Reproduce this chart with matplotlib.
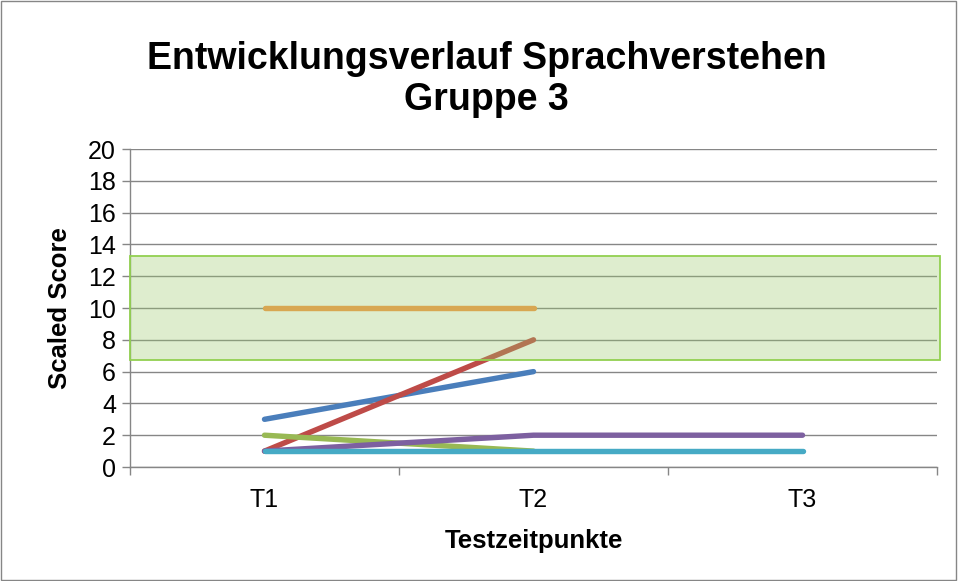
import matplotlib
matplotlib.use('Agg')
import matplotlib.pyplot as plt
from matplotlib.patches import Rectangle

plt.rcParams['font.family'] = ['Liberation Sans', 'DejaVu Sans']

categories = ['T1', 'T2', 'T3']
series = [
    ([3, 6], '#4A7EBB'),
    ([1, 8], '#BE4B48'),
    ([2, 1], '#98B954'),
    ([1, 2, 2], '#7D60A0'),
    ([1, 1, 1], '#46AAC5'),
    ([10, 10], '#F79646'),
]
band_low, band_high = 6.7, 13.3

fig = plt.figure(figsize=(9.58, 5.81), dpi=100)
ax = fig.add_axes([0.1357, 0.1962, 0.8424, 0.5473])

for vals, col in series:
    ax.plot(range(len(vals)), vals, color=col, linewidth=3.9,
            solid_capstyle='round', solid_joinstyle='round', zorder=3)

# green normal-range band drawn over the lines
band = Rectangle((0, band_low), 1.004, band_high - band_low, transform=ax.get_yaxis_transform(),
                 facecolor='#9BCB6B', alpha=0.33, edgecolor='none', zorder=4, clip_on=False)
ax.add_patch(band)
edge = Rectangle((0, band_low), 1.004, band_high - band_low, transform=ax.get_yaxis_transform(),
                 facecolor='none', edgecolor='#92D050', linewidth=1.3, zorder=5, clip_on=False)
ax.add_patch(edge)

ax.set_xlim(-0.5, 2.5)
ax.set_ylim(0, 20)
ax.set_yticks(range(0, 21, 2))
ax.set_xticks(range(3))
ax.set_xticklabels(categories)
ax.set_xticks([-0.5, 0.5, 1.5, 2.5], minor=True)
ax.tick_params(axis='x', which='major', length=0, labelsize=18, pad=15)
ax.tick_params(axis='x', which='minor', length=6, color='#868686', width=1)
ax.tick_params(axis='y', length=6, color='#868686', width=1, labelsize=18, pad=4)
ax.grid(axis='y', color='#868686', linewidth=1)
ax.set_axisbelow(True)
for s in ['top', 'right']:
    ax.spines[s].set_visible(False)
for s in ['left', 'bottom']:
    ax.spines[s].set_color('#868686')
    ax.spines[s].set_linewidth(1)

ax.set_xlabel('Testzeitpunkte', fontsize=18.5, fontweight='bold', labelpad=12)
ax.set_ylabel('Scaled Score', fontsize=18.5, fontweight='bold', labelpad=12)
fig.suptitle('Entwicklungsverlauf Sprachverstehen\nGruppe 3', fontsize=27, fontweight='bold',
             x=0.508, y=0.93, linespacing=1.18)

border = Rectangle((0.001, 0.001), 0.997, 0.997, transform=fig.transFigure,
                   facecolor='none', edgecolor='#868686', linewidth=1)
fig.patches.append(border)

fig.savefig('out.png', dpi=100)
